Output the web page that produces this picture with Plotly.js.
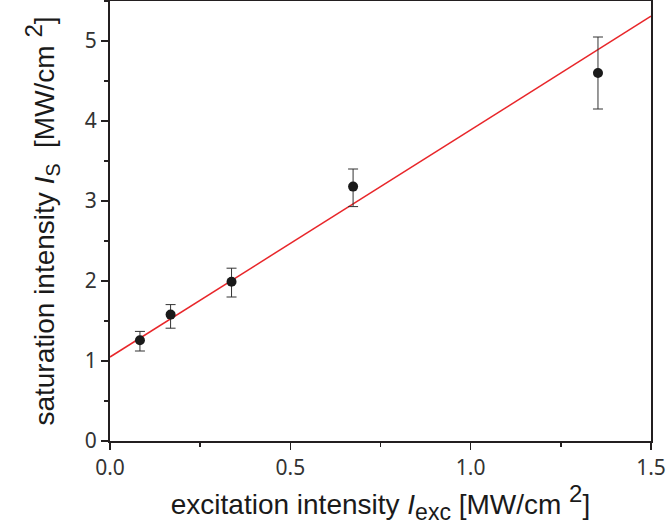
<!DOCTYPE html>
<html>
<head>
<meta charset="utf-8">
<script src="https://cdn.plot.ly/plotly-3.0.1.min.js"></script>
<style>html,body{margin:0;padding:0;background:#fff;}#chart{width:666px;height:525px;}</style>
</head>
<body>
<div id="chart"></div>
<script>
const excitation = [0.083, 0.168, 0.337, 0.674, 1.353];
const saturation = [1.26, 1.58, 1.99, 3.18, 4.60];
const errPlus = [0.11, 0.125, 0.17, 0.22, 0.45];
const errMinus = [0.135, 0.17, 0.19, 0.25, 0.45];
const fitX = [0, 1.5];
const fitY = [1.05, 5.31];

const traces = [
  {
    x: fitX, y: fitY, mode: 'lines', type: 'scatter',
    line: {color: '#e8262a', width: 1.5}, hoverinfo: 'skip'
  },
  {
    x: excitation, y: saturation, mode: 'markers', type: 'scatter',
    marker: {color: '#1a1a1a', size: 10},
    error_y: {type: 'data', symmetric: false, array: errPlus, arrayminus: errMinus,
              color: '#333333', thickness: 1, width: 5}
  }
];

const tickFont = {family: 'Noto Sans, Open Sans, sans-serif', size: 21, color: '#333'};
const titleFont = {family: 'Liberation Sans, Arial, sans-serif', size: 28, color: '#1a1a1a'};

const layout = {
  width: 666, height: 525,
  margin: {l: 110, r: 15, t: 1, b: 84},
  paper_bgcolor: '#fff', plot_bgcolor: '#fff',
  showlegend: false,
  xaxis: {
    range: [0, 1.5], dtick: 0.5, tick0: 0, tickformat: '.1f',
    showgrid: false, zeroline: false,
    showline: true, linecolor: '#231f20', linewidth: 2, mirror: true,
    ticks: 'outside', ticklen: 7, tickwidth: 1.5, tickcolor: '#231f20',
    minor: {dtick: 0.25, ticks: 'outside', ticklen: 4, tickwidth: 1.5, tickcolor: '#231f20', showgrid: false},
    tickfont: tickFont,
    title: {text: 'excitation intensity <i>I</i><sub><span style="font-size:23px">exc</span></sub> [MW/cm <sup><span style="font-size:24px">2</span></sup>]', font: titleFont, standoff: 2}
  },
  yaxis: {
    range: [0, 5.5], dtick: 1, tick0: 0,
    showgrid: false, zeroline: false,
    showline: true, linecolor: '#231f20', linewidth: 2, mirror: true,
    ticks: 'outside', ticklen: 7, tickwidth: 1.5, tickcolor: '#231f20',
    minor: {dtick: 0.5, ticks: 'outside', ticklen: 4, tickwidth: 1.5, tickcolor: '#231f20', showgrid: false},
    tickfont: tickFont,
    title: {text: 'saturation intensity <i>I</i><sub>S</sub>  [MW/cm <sup><span style="font-size:24px">2</span></sup>]', font: titleFont, standoff: 22}
  }
};

Plotly.newPlot('chart', traces, layout, {displayModeBar: false, staticPlot: true});
</script>
</body>
</html>
